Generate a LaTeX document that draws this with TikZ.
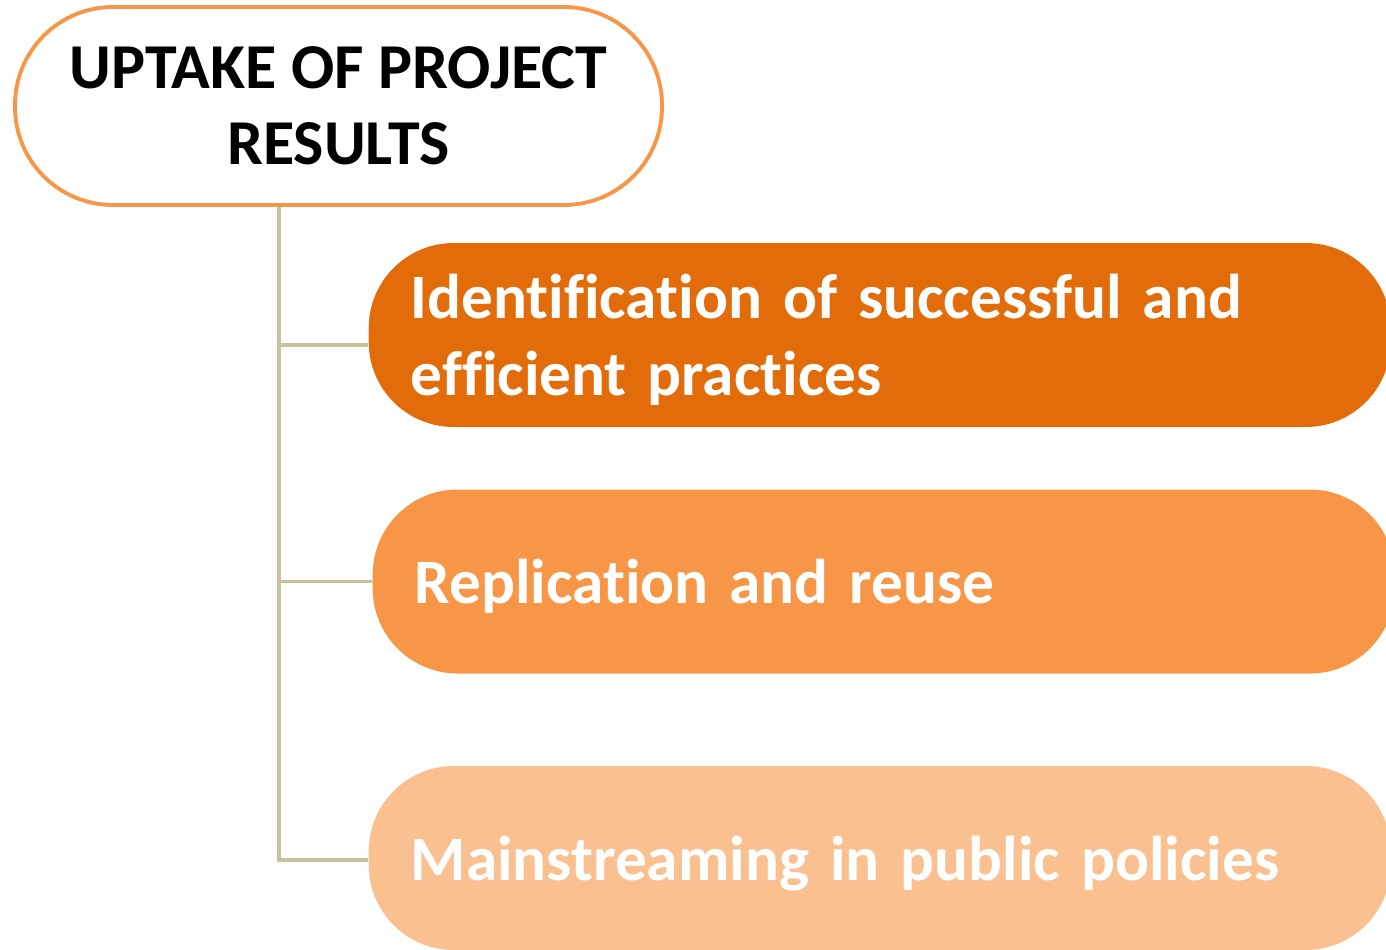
\documentclass[tikz,border=0pt]{standalone}
\usepackage{fontspec}
\setmainfont[Ligatures=CommonOff]{Carlito}
\usepackage{xcolor}
\usetikzlibrary{positioning}
\definecolor{color1}{RGB}{227,108,10}
\definecolor{color2}{RGB}{247,150,70}
\definecolor{color3}{RGB}{250,192,144}
\definecolor{linkcol}{RGB}{200,193,155}
\tikzset{%
  % Specifications for style of nodes:
  base/.style = {rectangle, rounded corners=0.85cm,
    minimum height=1.84cm,
    text width=9.38cm, inner xsep=0.42cm,
    align=left, text=white,
    font=\fontsize{18}{22}\selectfont\bfseries},
  title/.style = {rectangle, rounded corners=0.98cm, draw=color2,
    line width=1.1pt, fill=white,
    minimum width=6.47cm, minimum height=1.98cm,
    align=center, font=\fontsize{18.2}{21.5}\selectfont\bfseries},
  step1/.style = {base, fill=color1, text depth=0.78cm},
  step2/.style = {base, fill=color2, text depth=0pt},
  step3/.style = {base, fill=color3, text depth=0pt},
  link/.style = {draw=linkcol, line width=0.9pt},
}

\begin{document}
\begin{tikzpicture}
    \useasboundingbox (0,0) rectangle (13.86,-9.49);
    \clip (0,0) rectangle (13.86,-9.49);
        % Specification of nodes (position, etc.)
        \node(Up)[title] at (3.385,-1.06){UPTAKE OF PROJECT\\ RESULTS};
        \node(Id)[step1,anchor=west] at (3.68,-3.35){Identification of successful and\\ efficient practices};
        \node(Rep)[step2,anchor=west] at (3.72,-5.815){Replication and reuse};
        \node(Main)[step3,anchor=west] at (3.68,-8.58){Mainstreaming in public policies};
        \coordinate(trunk) at ([xshift=-0.595cm]Up.south);
        \draw[link](trunk) |- ([yshift=-0.1cm]Id.west);
        \draw[link](trunk) |- (Rep.west);
        \draw[link](trunk) |- ([yshift=-0.02cm]Main.west);
    \end{tikzpicture}
\end{document}
